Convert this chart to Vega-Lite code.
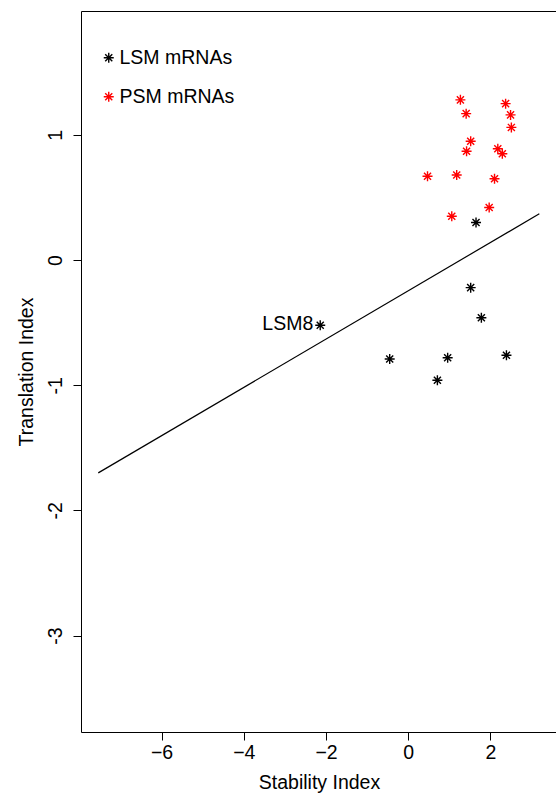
{
  "$schema": "https://vega.github.io/schema/vega-lite/v6.json",
  "width": 476,
  "height": 721,
  "autosize": {"type": "none"},
  "padding": {"left": 81, "top": 11, "right": 0, "bottom": 63},
  "background": "white",
  "config": {
    "font": "Liberation Sans",
    "view": {"stroke": "black", "strokeWidth": 1},
    "axis": {
      "domain": false,
      "grid": false,
      "tickColor": "black",
      "tickSize": 8,
      "labelColor": "black",
      "titleColor": "black",
      "labelFontSize": 19.5,
      "titleFontSize": 19.5,
      "titleFontWeight": "normal",
      "labelFont": "Liberation Sans",
      "titleFont": "Liberation Sans"
    }
  },
  "datasets": {
    "pts": [
      {"si": 1.27, "ti": 1.28, "group": "PSM mRNAs"},
      {"si": 2.37, "ti": 1.25, "group": "PSM mRNAs"},
      {"si": 1.41, "ti": 1.17, "group": "PSM mRNAs"},
      {"si": 2.49, "ti": 1.16, "group": "PSM mRNAs"},
      {"si": 2.51, "ti": 1.06, "group": "PSM mRNAs"},
      {"si": 1.52, "ti": 0.95, "group": "PSM mRNAs"},
      {"si": 1.42, "ti": 0.87, "group": "PSM mRNAs"},
      {"si": 2.18, "ti": 0.89, "group": "PSM mRNAs"},
      {"si": 2.29, "ti": 0.85, "group": "PSM mRNAs"},
      {"si": 0.47, "ti": 0.67, "group": "PSM mRNAs"},
      {"si": 1.18, "ti": 0.68, "group": "PSM mRNAs"},
      {"si": 2.10, "ti": 0.65, "group": "PSM mRNAs"},
      {"si": 1.97, "ti": 0.42, "group": "PSM mRNAs"},
      {"si": 1.06, "ti": 0.35, "group": "PSM mRNAs"},
      {"si": -2.14, "ti": -0.52, "group": "LSM mRNAs"},
      {"si": -0.45, "ti": -0.79, "group": "LSM mRNAs"},
      {"si": 0.96, "ti": -0.78, "group": "LSM mRNAs"},
      {"si": 0.71, "ti": -0.96, "group": "LSM mRNAs"},
      {"si": 2.39, "ti": -0.76, "group": "LSM mRNAs"},
      {"si": 1.52, "ti": -0.22, "group": "LSM mRNAs"},
      {"si": 1.78, "ti": -0.46, "group": "LSM mRNAs"},
      {"si": 1.65, "ti": 0.30, "group": "LSM mRNAs"}
    ],
    "fit": [
      {"si": -7.54, "ti": -1.70},
      {"si": 3.19, "ti": 0.37}
    ],
    "lab": [
      {"si": -2.14, "ti": -0.52, "label": "LSM8"}
    ]
  },
  "layer": [
    {
      "data": {"name": "fit"},
      "mark": {"type": "line", "color": "black", "strokeWidth": 1.2, "clip": true},
      "encoding": {
        "x": {"field": "si", "type": "quantitative"},
        "y": {"field": "ti", "type": "quantitative"}
      }
    },
    {
      "data": {"name": "pts"},
      "mark": {
        "type": "point",
        "filled": false,
        "strokeWidth": 1.4,
        "opacity": 1,
        "size": 100,
        "shape": "M-1,0L1,0M0,-1L0,1M-0.707,-0.707L0.707,0.707M-0.707,0.707L0.707,-0.707"
      },
      "encoding": {
        "x": {
          "field": "si",
          "type": "quantitative",
          "scale": {"domain": [-7.96, 3.62], "nice": false, "zero": false},
          "axis": {"values": [-6, -4, -2, 0, 2], "format": "d", "title": "Stability Index", "labelPadding": 3, "titlePadding": 12}
        },
        "y": {
          "field": "ti",
          "type": "quantitative",
          "scale": {"domain": [-3.77, 1.99], "nice": false, "zero": false},
          "axis": {
            "values": [-3, -2, -1, 0, 1],
            "format": "d",
            "title": "Translation Index",
            "labelAngle": -90,
            "labelAlign": "center",
            "labelBaseline": "bottom",
            "labelPadding": 8,
            "titlePadding": 9,
            "labelExpr": "replace(datum.label, '−', '-')"
          }
        },
        "color": {
          "field": "group",
          "type": "nominal",
          "scale": {"domain": ["LSM mRNAs", "PSM mRNAs"], "range": ["#000000", "#ff0000"]},
          "legend": {
            "title": null,
            "orient": "none",
            "legendX": 18,
            "legendY": 37,
            "padding": 0,
            "labelFontSize": 19.5,
            "labelFont": "Liberation Sans",
            "labelOffset": 1,
            "rowPadding": 18,
            "symbolSize": 100,
            "symbolStrokeWidth": 1.4,
            "symbolType": "M-1,0L1,0M0,-1L0,1M-0.707,-0.707L0.707,0.707M-0.707,0.707L0.707,-0.707",
            "encode": {
              "labels": {
                "update": {
                  "fill": {"signal": "datum.value === 'PSM mRNAs' ? '#ff0000' : '#000000'"}
                }
              }
            }
          }
        }
      }
    },
    {
      "data": {"name": "lab"},
      "mark": {"type": "text", "align": "right", "baseline": "middle", "dx": -7, "dy": -1, "fontSize": 19.5, "font": "Liberation Sans", "color": "black"},
      "encoding": {
        "x": {"field": "si", "type": "quantitative"},
        "y": {"field": "ti", "type": "quantitative"},
        "text": {"field": "label"}
      }
    }
  ]
}
